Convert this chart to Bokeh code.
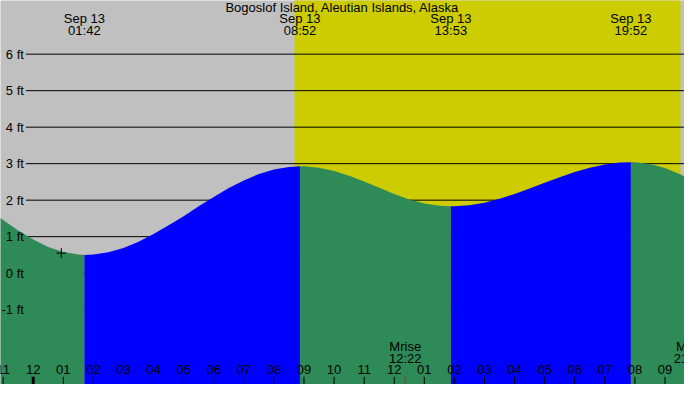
from bokeh.plotting import figure
from bokeh.models import Range1d
from bokeh.core.properties import value
from bokeh.embed import file_html
from bokeh.resources import INLINE

# ---------------- data ----------------
title_text = "Bogoslof Island, Aleutian Islands, Alaska"
date_label = "Sep 13"
tide_times = ["01:42", "08:52", "13:53", "19:52"]
tide_ft = [0.5, 2.93, 1.83, 3.04]
sunrise = "08:41"
sunset = "21:31"
moon_names = ["Mrise", "Mset"]
moon_times = ["12:22", "21:50"]
now_time = "00:56"
now_ft = 0.55

ft_levels = [6, 5, 4, 3, 2, 1, 0, -1]
ft_labels = ["6 ft", "5 ft", "4 ft", "3 ft", "2 ft", "1 ft", "0 ft", "-1 ft"]

tick_hours = [-1, 0, 1, 2, 3, 4, 5, 6, 7, 8, 9, 10, 11, 12, 13, 14, 15, 16, 17, 18, 19, 20, 21]
tick_labels = ["11", "12", "01", "02", "03", "04", "05", "06", "07", "08", "09", "10",
               "11", "12", "01", "02", "03", "04", "05", "06", "07", "08", "09"]

# tide height (hours after midnight Sep 13, feet)
curve_t = [-1.1, -1.0, -0.5, 0.0, 0.5, 1.0, 1.5, 1.7,
           2.0, 2.5, 3.0, 3.5, 4.0, 4.5, 5.0, 5.5, 6.0, 6.5, 7.0, 7.5, 8.0, 8.5, 8.867,
           9.0, 9.5, 10.0, 10.5, 11.0, 11.5, 12.0, 12.5, 13.0, 13.5, 13.883,
           14.0, 14.5, 15.0, 15.5, 16.0, 16.5, 17.0, 17.5, 18.0, 18.5, 19.0, 19.5, 19.867,
           20.0, 20.5, 21.0, 21.5, 21.7]
curve_ft = [1.52, 1.46, 1.17, 0.92, 0.72, 0.58, 0.51, 0.50,
            0.51, 0.57, 0.69, 0.86, 1.07, 1.31, 1.56, 1.83, 2.09, 2.33, 2.54, 2.72, 2.84, 2.91, 2.93,
            2.93, 2.89, 2.80, 2.67, 2.51, 2.34, 2.17, 2.02, 1.91, 1.85, 1.83,
            1.83, 1.86, 1.93, 2.04, 2.17, 2.32, 2.48, 2.63, 2.77, 2.89, 2.98, 3.03, 3.04,
            3.04, 2.99, 2.88, 2.71, 2.63]


def hrs(s):
    h, m = s.split(":")
    return int(h) + int(m) / 60.0


# ---------------- figure ----------------
X0, X1 = -1.088, 21.649
Y0, Y1 = -3.05, 7.47
W, H = 684, 384

p = figure(width=W, height=H, output_backend="svg", toolbar_location=None,
           x_range=Range1d(X0, X1), y_range=Range1d(Y0, Y1), min_border=0)
p.axis.visible = False
p.grid.visible = False
p.outline_line_color = None
p.background_fill_color = "#c0c0c0"
p.border_fill_color = "#c0c0c0"

FONT = value("Liberation Sans")
TXT = dict(text_font=FONT, text_font_size="13px", text_color="black", text_baseline="middle")

# daylight
p.quad(left=[hrs(sunrise)], right=[hrs(sunset)], bottom=[Y0 - 1], top=[Y1 + 1],
       fill_color="#cccc00", line_color=None)

# horizontal level lines
line_start = -0.244
p.segment(x0=[line_start] * len(ft_levels), x1=[X1 + 1] * len(ft_levels),
          y0=ft_levels, y1=ft_levels, line_color="black", line_width=1)

# tide fill, rising = blue, falling = green
ev_x = [hrs(t) for t in tide_times]
bounds = [X0 - 1] + ev_x + [X1 + 1]
levels = [curve_ft[0]] + tide_ft + [curve_ft[-1]]
tol = 0.02
for i in range(len(bounds) - 1):
    a, b = bounds[i], bounds[i + 1]
    pts = [(t, f) for t, f in zip(curve_t, curve_ft) if a - tol <= t <= b + tol]
    xs = [q[0] for q in pts]
    ys = [q[1] for q in pts]
    rising = levels[i + 1] > levels[i]
    color = "#0000ff" if rising else "#2e8b57"
    p.varea(x=xs, y1=[Y0 - 1] * len(xs), y2=ys, fill_color=color)

# y labels
p.text(x=[-0.309] * len(ft_levels), y=ft_levels, text=ft_labels, text_align="right", **TXT)

# title
p.text(x=[(X0 + X1) / 2], y=[7.29], text=[title_text], text_align="center", **TXT)

# tide event labels
p.text(x=ev_x, y=[6.97] * len(ev_x), text=[date_label] * len(ev_x), text_align="center", **TXT)
p.text(x=ev_x, y=[6.64] * len(ev_x), text=tide_times, text_align="center", **TXT)

# hour ticks and labels
p.segment(x0=tick_hours, x1=tick_hours, y0=[-2.84] * len(tick_hours),
          y1=[Y0 - 1] * len(tick_hours), line_color="black", line_width=1)
p.segment(x0=[0], x1=[0], y0=[-2.84], y1=[Y0 - 1], line_color="black", line_width=3)
p.text(x=tick_hours, y=[-2.63] * len(tick_hours), text=tick_labels, text_align="center", **TXT)

# moon events
mx = [hrs(t) for t in moon_times]
p.segment(x0=mx, x1=mx, y0=[-2.84] * len(mx), y1=[Y0 - 1] * len(mx),
          line_color="red", line_width=1)
p.text(x=mx, y=[-2.02] * len(mx), text=moon_names, text_align="center", **TXT)
p.text(x=mx, y=[-2.35] * len(mx), text=moon_times, text_align="center", **TXT)

# current time marker
p.scatter(x=[hrs(now_time)], y=[now_ft], marker="cross", size=10,
          line_color="black", line_width=1)

open("out.html", "w").write(file_html(p, INLINE))
